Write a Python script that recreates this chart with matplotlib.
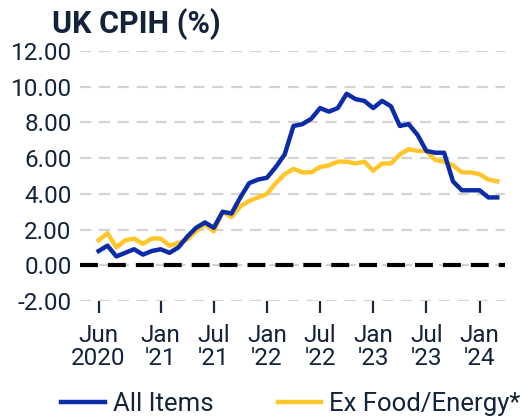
import numpy as np
import matplotlib.pyplot as plt

plt.rcParams['font.family'] = ['Roboto', 'DejaVu Sans']

# Monthly annual rates, Jun 2020 .. Mar 2024
all_items = [0.8, 1.1, 0.5, 0.7, 0.9, 0.6, 0.8,
             0.9, 0.7, 1.0, 1.6, 2.1, 2.4, 2.1, 3.0, 2.9, 3.8, 4.6, 4.8,
             4.9, 5.5, 6.2, 7.8, 7.9, 8.2, 8.8, 8.6, 8.8, 9.6, 9.3, 9.2,
             8.8, 9.2, 8.9, 7.8, 7.9, 7.3, 6.4, 6.3, 6.3, 4.7, 4.2, 4.2,
             4.2, 3.8, 3.8]
ex_food_energy = [1.4, 1.8, 1.0, 1.4, 1.5, 1.2, 1.5,
                  1.5, 1.1, 1.25, 1.45, 1.9, 2.3, 1.9, 3.0, 2.7, 3.3, 3.6, 3.8,
                  4.0, 4.6, 5.1, 5.4, 5.2, 5.2, 5.5, 5.6, 5.8, 5.8, 5.7, 5.8,
                  5.3, 5.7, 5.7, 6.2, 6.5, 6.4, 6.4, 5.9, 5.8, 5.6, 5.2, 5.2,
                  5.1, 4.8, 4.7]
tick_pos = [0, 7, 13, 19, 25, 31, 37, 43]
tick_labels = ['Jun\n2020', "Jan\n'21", "Jul\n'21", "Jan\n'22",
               "Jul\n'22", "Jan\n'23", "Jul\n'23", "Jan\n'24"]
y_ticks = [-2, 0, 2, 4, 6, 8, 10, 12]

BLUE = '#0b2ca6'
GOLD = '#ffc62b'
TEXT = '#13243a'
FS = 17.5

fig = plt.figure(figsize=(5.23, 4.17), dpi=100)
ax = fig.add_axes([0.153, 0.278, 0.813, 0.600])

x = np.arange(len(all_items))
ax.plot(x, all_items, color=BLUE, lw=3.2, label='All Items', zorder=4)
ax.plot(x, ex_food_energy, color=GOLD, lw=3.2, label='Ex Food/Energy*', zorder=3)

for yv in y_ticks:
    ax.axhline(yv, color='#d3d3d3', lw=1.6, dashes=(5, 3.5), zorder=1)
ax.axhline(0, color='black', lw=3.0, dashes=(4.3, 2.4), zorder=2)

ax.set_xlim(-2.1, 45.9)
ax.set_ylim(-2, 12)
ax.set_yticks(y_ticks)
ax.set_yticklabels([f'{v:.2f}' for v in y_ticks])
ax.set_xticks(tick_pos)
ax.set_xticklabels(tick_labels)
for lab in ax.get_xticklabels():
    lab.set_linespacing(1.0)

for s in ax.spines.values():
    s.set_visible(False)
ax.tick_params(axis='y', length=0, pad=6, labelsize=FS, colors=TEXT)
ax.tick_params(axis='x', length=8.5, width=1.6, pad=8, labelsize=FS,
               colors=TEXT, color='#1b2a3b')

fig.text(0.099, 0.921, 'UK CPIH (%)', fontsize=22, fontweight='bold',
         color=TEXT, ha='left', va='baseline')

fig.legend(loc='center', bbox_to_anchor=(0.556, 0.032), ncol=2, frameon=False,
           fontsize=18.5, handlelength=1.7, handletextpad=0.31,
           columnspacing=2.5, labelcolor=TEXT, borderpad=0, borderaxespad=0)

fig.savefig('out.png', dpi=100)
